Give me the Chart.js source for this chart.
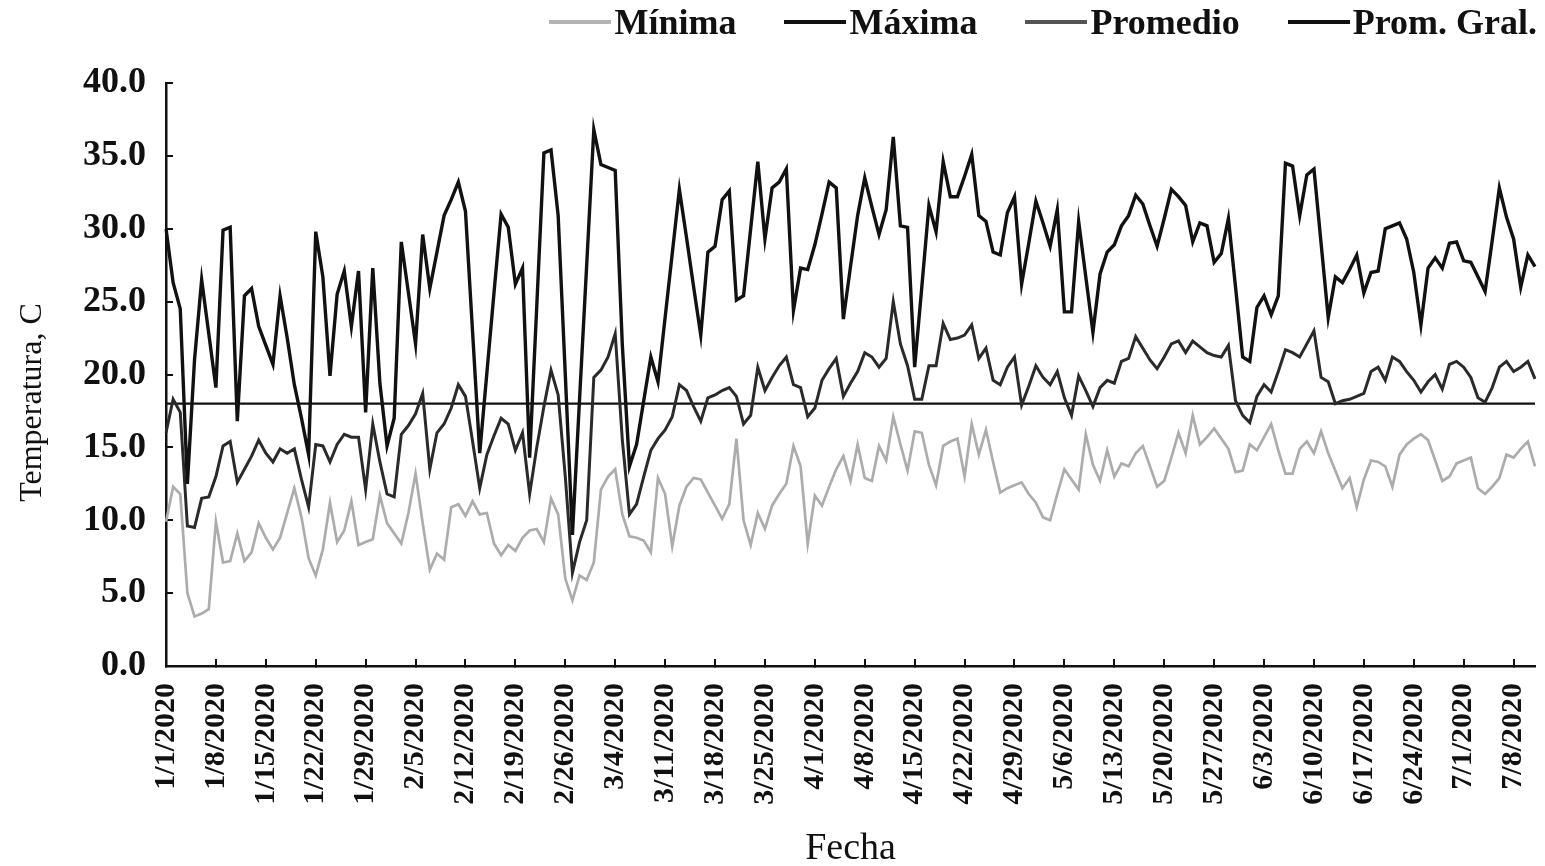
<!DOCTYPE html>
<html>
<head>
<meta charset="utf-8">
<title>Temperatura diaria 2020</title>
<script src="https://cdn.jsdelivr.net/npm/chart.js@4.4.1/dist/chart.umd.min.js"></script>
<style>
  body { margin: 0; background: #fff; }
  #wrap { position: relative; width: 1545px; height: 866px; }
  #legend {
    position: absolute; top: 2px; right: 8px;
    display: flex; align-items: center;
    font: bold 36px "Liberation Serif", serif; line-height: 40px; color: #111;
  }
  .item { display: flex; align-items: center; margin-left: 48px; }
  .swatch { display: inline-block; width: 62px; height: 0; border-top: 4px solid; margin-right: 3px; }
</style>
</head>
<body>
<div id="wrap">
  <canvas id="chart"></canvas>
  <div id="legend"></div>
</div>
<script>
// daily values, 1/1/2020 .. 7/11/2020
const maxima = [
  30.0, 26.3, 24.5, 12.5, 21.0, 26.5, 22.8, 19.1, 29.9, 30.1,
  16.8, 25.4, 25.9, 23.3, 22.0, 20.7, 25.4, 22.5, 19.3, 17.0,
  14.5, 29.8, 26.7, 19.9, 25.5, 27.1, 23.3, 27.1, 17.4, 27.3,
  19.4, 15.1, 17.0, 29.1, 25.6, 22.1, 29.6, 25.9, 28.4, 30.9,
  32.0, 33.2, 31.2, 22.9, 14.6, 20.1, 25.6, 31.0, 30.1, 26.2,
  27.3, 14.3, 24.7, 35.2, 35.4, 30.9, 20.0, 9.0, 18.3, 27.5,
  36.8, 34.4, 34.2, 34.0, 22.0, 13.7, 15.2, 18.2, 21.2, 19.5,
  23.9, 28.3, 32.7, 29.4, 26.0, 22.7, 28.4, 28.8, 32.0, 32.6,
  25.1, 25.4, 30.0, 34.6, 29.3, 32.8, 33.2, 34.1, 24.4, 27.3,
  27.2, 28.9, 31.0, 33.2, 32.8, 23.8, 27.4, 30.9, 33.5, 31.5,
  29.6, 31.3, 36.3, 30.2, 30.1, 20.5, 26.0, 31.6, 29.8, 34.6,
  32.2, 32.2, 33.6, 35.1, 30.9, 30.5, 28.4, 28.2, 31.1, 32.2,
  26.2, 29.0, 31.9, 30.4, 28.8, 31.3, 24.3, 24.3, 30.5, 26.7,
  22.9, 26.9, 28.4, 28.9, 30.2, 30.9, 32.3, 31.7, 30.2, 28.8,
  30.7, 32.7, 32.2, 31.6, 29.1, 30.4, 30.2, 27.7, 28.3, 30.7,
  26.0, 21.2, 20.9, 24.6, 25.4, 24.1, 25.4, 34.5, 34.3, 30.9,
  33.7, 34.1, 29.0, 23.9, 26.7, 26.3, 27.2, 28.2, 25.6, 27.0,
  27.1, 30.0, 30.2, 30.4, 29.3, 27.0, 23.4, 27.3, 28.0, 27.3,
  29.0, 29.1, 27.8, 27.7, 26.7, 25.7, 29.2, 32.8, 30.8, 29.3,
  26.0, 28.2, 27.4
];
const promedio = [
  16.0, 18.3, 17.4, 9.6, 9.5, 11.5, 11.6, 13.0, 15.1, 15.4,
  12.6, 13.5, 14.4, 15.5, 14.6, 14.0, 14.9, 14.6, 14.9, 12.8,
  10.9, 15.2, 15.1, 14.0, 15.2, 15.9, 15.7, 15.7, 12.1, 16.6,
  14.0, 11.8, 11.6, 15.9, 16.5, 17.3, 18.7, 13.5, 16.0, 16.6,
  17.7, 19.3, 18.5, 15.4, 12.2, 14.5, 15.8, 17.0, 16.6, 14.8,
  16.0, 11.8, 15.0, 17.8, 20.3, 18.6, 13.0, 6.4, 8.5, 10.0,
  19.8, 20.3, 21.2, 22.8, 15.5, 10.4, 11.1, 13.0, 14.8, 15.6,
  16.2, 17.1, 19.3, 18.9, 17.8, 16.8, 18.4, 18.6, 18.9, 19.1,
  18.5, 16.6, 17.2, 20.5, 18.9, 19.8, 20.6, 21.2, 19.3, 19.1,
  17.1, 17.7, 19.6, 20.4, 21.1, 18.5, 19.4, 20.2, 21.5, 21.2,
  20.5, 21.1, 25.0, 22.1, 20.6, 18.3, 18.3, 20.6, 20.6, 23.5,
  22.4, 22.5, 22.7, 23.4, 21.1, 21.8, 19.6, 19.3, 20.5, 21.2,
  17.9, 19.2, 20.6, 19.8, 19.3, 20.2, 18.4, 17.2, 19.9, 18.9,
  17.8, 19.1, 19.6, 19.4, 20.9, 21.1, 22.6, 21.8, 21.0, 20.4,
  21.2, 22.1, 22.3, 21.5, 22.3, 21.9, 21.5, 21.3, 21.2, 22.0,
  18.2, 17.2, 16.7, 18.5, 19.3, 18.8, 20.2, 21.7, 21.5, 21.2,
  22.1, 23.0, 19.8, 19.5, 18.0, 18.2, 18.3, 18.5, 18.7, 20.2,
  20.5, 19.6, 21.2, 20.9, 20.2, 19.6, 18.8, 19.5, 20.0, 19.0,
  20.7, 20.9, 20.5, 19.8, 18.4, 18.1, 19.1, 20.5, 20.9, 20.2,
  20.5, 20.9, 19.7
];
const minima = [
  9.9, 12.3, 11.8, 5.0, 3.4, 3.6, 3.9, 9.9, 7.1, 7.2,
  9.1, 7.2, 7.8, 9.8, 8.8, 8.0, 8.8, 10.5, 12.2, 10.2,
  7.4, 6.2, 8.0, 11.2, 8.5, 9.3, 11.3, 8.3, 8.5, 8.7,
  11.7, 9.8, 9.1, 8.4, 10.5, 13.2, 9.8, 6.6, 7.7, 7.3,
  10.9, 11.1, 10.3, 11.3, 10.4, 10.5, 8.4, 7.6, 8.3, 7.9,
  8.8, 9.3, 9.4, 8.5, 11.5, 10.4, 6.0, 4.5, 6.2, 5.9,
  7.1, 12.1, 13.0, 13.5, 10.4, 8.9, 8.8, 8.6, 7.8, 12.9,
  11.8, 8.2, 11.0, 12.3, 12.9, 12.8, 11.9, 11.0, 10.1, 11.1,
  15.6, 10.0, 8.3, 10.5, 9.4, 11.0, 11.8, 12.5, 15.1, 13.7,
  8.4, 11.7, 11.0, 12.3, 13.5, 14.4, 12.7, 15.2, 12.9, 12.7,
  15.1, 14.1, 17.1, 15.2, 13.4, 16.1, 16.0, 13.8, 12.4, 15.1,
  15.4, 15.6, 13.0, 16.6, 14.5, 16.2, 14.0, 11.9, 12.2, 12.4,
  12.6, 11.8, 11.2, 10.2, 10.0, 11.8, 13.5, 12.8, 12.1, 15.9,
  13.8, 12.7, 14.8, 13.0, 13.9, 13.7, 14.6, 15.1, 13.7, 12.3,
  12.7, 14.3, 16.0, 14.6, 17.2, 15.2, 15.7, 16.3, 15.6, 14.9,
  13.3, 13.4, 15.2, 14.8, 15.7, 16.6, 14.8, 13.2, 13.2, 14.9,
  15.4, 14.6, 16.1, 14.6, 13.4, 12.2, 12.9, 10.9, 12.8, 14.1,
  14.0, 13.7, 12.3, 14.5, 15.2, 15.6, 15.9, 15.5, 14.1, 12.7,
  13.0, 13.9, 14.1, 14.3, 12.2, 11.8, 12.3, 12.9, 14.5, 14.3,
  14.9, 15.4, 13.7
];
const promGral = 18.0;

// date labels m/d/yyyy, one per day
const fechas = [];
for (let i = 0; i < maxima.length; i++) {
  const d = new Date(2020, 0, 1 + i);
  fechas.push(`${d.getMonth() + 1}/${d.getDate()}/${d.getFullYear()}`);
}

const series = [
  { label: 'Mínima', data: minima, color: '#acacac', width: 2.7, legend: '#b4b4b4' },
  { label: 'Máxima', data: maxima, color: '#111111', width: 3.4, legend: '#111111' },
  { label: 'Promedio', data: promedio, color: '#2a2a2a', width: 3.0, legend: '#555555' },
  { label: 'Prom. Gral.', data: [{ x: fechas[0], y: promGral }, { x: fechas[fechas.length - 1], y: promGral }],
    color: '#111111', width: 2.4, legend: '#111111' }
];

const legend = document.getElementById('legend');
series.forEach(s => {
  legend.innerHTML += `<span class="item"><span class="swatch" style="border-color:${s.legend}"></span>${s.label}</span>`;
});

const serif = 'Liberation Serif';
const ink = '#111';

new Chart(document.getElementById('chart'), {
  type: 'line',
  data: {
    labels: fechas,
    datasets: series.map(s => ({
      label: s.label,
      data: s.data,
      borderColor: s.color,
      backgroundColor: s.color,
      borderWidth: s.width,
      pointRadius: 0,
      tension: 0,
      fill: false
    }))
  },
  options: {
    responsive: true,
    maintainAspectRatio: false,
    animation: false,
    layout: { padding: { top: 83, right: 10, bottom: 0, left: 0 } },
    plugins: { legend: { display: false }, tooltip: { enabled: false } },
    scales: {
      x: {
        grid: { drawOnChartArea: false, tickLength: -7, color: ink, lineWidth: 2 },
        border: { color: ink, width: 2.5 },
        ticks: {
          autoSkip: false, minRotation: 90, maxRotation: 90, padding: 24, color: ink,
          font: { family: serif, size: 30, weight: 'bold' },
          callback: function (v, i) { return i % 7 === 0 ? this.getLabelForValue(v) : null; }
        },
        title: { display: true, text: 'Fecha', color: ink, padding: 0,
                 font: { family: serif, size: 38, lineHeight: 0.9 } },
        afterFit: s => { s.height = 200; s.paddingLeft = 0; s.paddingRight = 0; }
      },
      y: {
        min: 0, max: 40,
        grid: { drawOnChartArea: false, tickLength: -7, color: ink, lineWidth: 2 },
        border: { color: ink, width: 2.5 },
        ticks: {
          stepSize: 5, padding: 27, color: ink,
          font: { family: serif, size: 36, weight: 'bold' },
          callback: v => v.toFixed(1)
        },
        // trailing spaces push the rotated title down to where the original sits
        title: { display: true, text: 'Temperatura, C       ', color: ink, padding: { top: 13, bottom: 0 },
                 font: { family: serif, size: 32 } },
        afterFit: s => { s.width = 166; }
      }
    }
  }
});
</script>
</body>
</html>
